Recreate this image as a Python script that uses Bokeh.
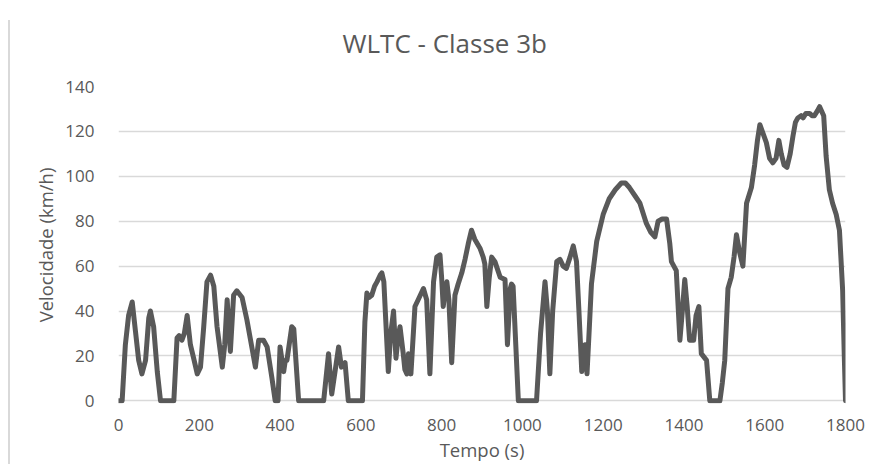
from bokeh.plotting import figure
from bokeh.models import Range1d, FixedTicker, Div
from bokeh.layouts import row
from bokeh.embed import file_html
from bokeh.resources import INLINE

# WLTC class 3b speed profile
tempo_s = [0, 9, 17, 25, 34, 42, 50, 58, 67, 75, 79, 87, 96, 104, 137, 145, 150, 157, 163,
           170, 178, 186, 195, 203, 211, 219, 228, 236, 244, 257, 263, 269, 277, 285, 293, 306,
           318, 330, 339, 347, 359, 368, 380, 388, 395, 400, 409, 413, 417, 429, 434, 446,
           508, 520, 528, 545, 552, 561, 569, 604, 610, 615, 620, 627, 634,
           640, 648, 652, 657, 668, 674, 681, 687, 692, 697, 705, 709, 714, 718, 724,
           734, 742, 755, 763, 771, 780, 788, 796, 800, 804, 808, 813, 818, 825, 833, 841,
           850, 858, 866, 874, 882, 895, 903, 907, 912, 918, 924, 932, 945, 957, 963, 970, 973,
           977, 990, 1035, 1045, 1056, 1062, 1068, 1075, 1085, 1093, 1101, 1109, 1118, 1126, 1134,
           1140, 1147, 1151, 1155, 1160, 1165, 1171, 1184, 1200, 1215, 1230, 1245, 1255, 1265,
           1280, 1291, 1307, 1318, 1328, 1336, 1346, 1357, 1365, 1369, 1375, 1381, 1390, 1396,
           1402, 1408, 1414, 1424, 1430, 1437, 1443, 1456, 1464, 1489, 1495, 1501, 1509, 1517,
           1524, 1530, 1538, 1546, 1555, 1567, 1575, 1582, 1588, 1596, 1604, 1612, 1620, 1628,
           1635, 1641, 1648, 1655, 1663, 1670, 1676, 1682, 1690, 1695, 1702, 1711, 1717, 1723,
           1730, 1736, 1741, 1746, 1752, 1760, 1768, 1777, 1785, 1793, 1797, 1800]

velocidade_kmh = [0, 0, 25, 38, 44, 31, 18, 12, 18, 37, 40, 33, 13, 0, 0, 28, 29, 27, 30,
                  38, 25, 19, 12, 15, 33, 53, 56, 51, 33, 15, 25, 45, 22, 47, 49, 46,
                  36, 24, 15, 27, 27, 24, 10, 0, 0, 24, 13, 18, 18, 33, 32, 0,
                  0, 21, 3, 24, 15, 17, 0, 0, 35, 48, 46, 47, 51,
                  53, 56, 57, 53, 13, 30, 40, 19, 28, 33, 21, 14, 12, 21, 12,
                  42, 45, 50, 45, 12, 53, 64, 65, 55, 42, 48, 53, 45, 17, 47, 52,
                  57, 63, 70, 76, 72, 68, 64, 61, 42, 55, 64, 62, 55, 54, 25, 50, 52,
                  51, 0, 0, 30, 53, 40, 12, 40, 62, 63, 60, 59, 64, 69, 62,
                  40, 13, 22, 25, 12, 30, 52, 71, 83, 90, 94, 97, 97, 95,
                  91, 88, 79, 75, 73, 80, 81, 81, 70, 62, 60, 58, 27, 40,
                  54, 42, 27, 27, 38, 42, 21, 18, 0, 0, 8, 18, 50, 55,
                  64, 74, 66, 60, 88, 95, 105, 116, 123, 119, 115, 108, 106, 108,
                  116, 110, 105, 104, 110, 118, 124, 126, 127, 126, 128, 128, 127, 127,
                  129, 131, 129, 127, 109, 94, 88, 83, 76, 49, 20, 0]

x_ticks = [0, 200, 400, 600, 800, 1000, 1200, 1400, 1600, 1800]
y_ticks = [0, 20, 40, 60, 80, 100, 120, 140]

TEXT = "#595959"
GRID = "#d9d9d9"
FONT = "Open Sans"

p = figure(frame_width=727, frame_height=317,
           min_border_left=108, min_border_right=27, min_border_top=86, min_border_bottom=61,
           x_range=Range1d(0, 1800), y_range=Range1d(-1.2, 140),
           output_backend="svg", toolbar_location=None,
           background_fill_color="white", border_fill_color="white",
           outline_line_color=None)

p.title.text = "WLTC - Classe 3b"
p.title.text_font = FONT
p.title.text_font_size = "26px"
p.title.text_font_style = "normal"
p.title.text_color = TEXT
p.title.align = "left"
p.title.vertical_align = "top"
p.title.offset = 224
p.title.standoff = 47

p.line(tempo_s, velocidade_kmh, line_color="#595959", line_width=5, line_join="round", line_cap="round")

for ax in (p.xaxis[0], p.yaxis[0]):
    ax.axis_line_color = None
    ax.major_tick_line_color = None
    ax.minor_tick_line_color = None
    ax.major_label_text_font = FONT
    ax.major_label_text_font_size = "17px"
    ax.major_label_text_color = TEXT
    ax.axis_label_text_font = FONT
    ax.axis_label_text_font_size = "18.5px"
    ax.axis_label_text_font_style = "normal"
    ax.axis_label_text_color = TEXT

p.xaxis[0].ticker = FixedTicker(ticks=x_ticks)
p.yaxis[0].ticker = FixedTicker(ticks=y_ticks)
p.xaxis[0].axis_label = "Tempo (s)"
p.yaxis[0].axis_label = "Velocidade (km/h)"
p.xaxis[0].major_label_standoff = 9
p.xaxis[0].axis_label_standoff = 3
p.yaxis[0].major_label_standoff = 18
p.yaxis[0].axis_label_standoff = 4

p.xgrid.grid_line_color = None
p.ygrid.grid_line_color = GRID
p.ygrid.grid_line_width = 1.5

# light chart-area border on the left edge
edge = Div(text="", width=10, height=444, margin=(20, 0, 0, 0),
           styles={"border-right": "2px solid #d9d9d9", "box-sizing": "border-box"})

layout = row(edge, p)

open("out.html", "w").write(file_html(layout, INLINE))
